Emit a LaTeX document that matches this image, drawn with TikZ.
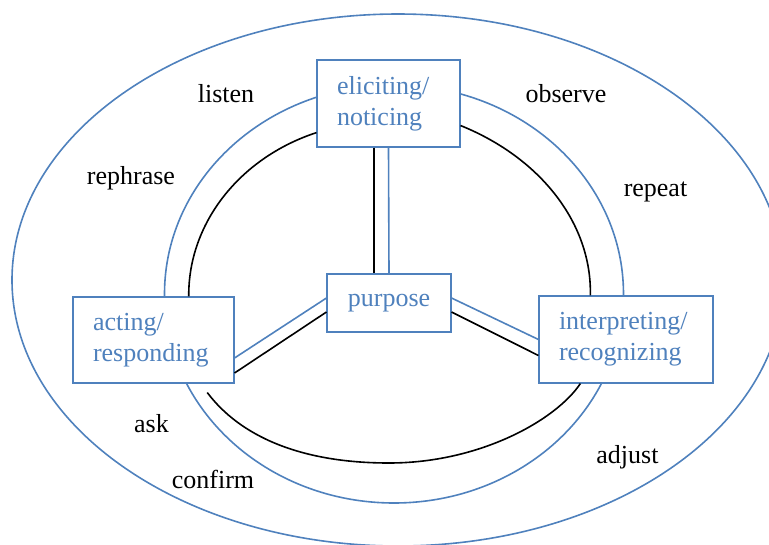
\documentclass[tikz,border=0pt]{standalone}
\usepackage{fontspec}
\setmainfont{Liberation Serif}
\usetikzlibrary{calc}
\definecolor{ringblue}{RGB}{79,129,189}

\begin{document}
\begin{tikzpicture}[
        x=0.75pt, y=-0.75pt,
        font=\fontsize{19.5}{23.5}\selectfont,
        ring/.style={draw=ringblue, line width=1.2pt},
        stage/.style={draw=ringblue, line width=0.8pt, fill=white, text=ringblue,
          align=left, inner xsep=15pt, inner ysep=0pt},
        link/.style={line width=1.2pt},
        bluelink/.style={draw=ringblue, line width=1.2pt},
        cue/.style={anchor=base}
      ]
        \clip (0,0) rectangle (769,544);
        \draw[ring] (398,280) ellipse [x radius=386, y radius=266];
        \draw[ring] (394,294) ellipse [x radius=229.5, y radius=209];

        \node[stage, text width=77.25pt, minimum height=65.25pt] (eliciting) at (388.5,103.5) {eliciting/\\noticing};
        \node[stage, text width=90.75pt, minimum height=64.5pt] (acting) at (153.5,340) {acting/\\responding};
        \node[stage, text width=100.5pt, minimum height=65.25pt] (interpreting) at (626,339.5) {interpreting/\\recognizing};
        \node[stage, align=center, text width=63pt, minimum height=43.5pt] (purpose) at (389,303) {purpose};

        \node[cue] (listen) at (226,102) {listen};
        \node[cue] (observe) at (566,102) {observe};
        \node[cue] (rephrase) at (131,184) {rephrase};
        \node[cue] (repeat) at (655.5,196) {repeat};
        \node[cue] (ask) at (151.5,432) {ask};
        \node[cue] (confirm) at (213,488) {confirm};
        \node[cue] (adjust) at (627.5,463) {adjust};

        \draw[link] (eliciting.202) .. controls (239,158) and (188,224) .. (acting.51);
        \draw[link] (eliciting.343) .. controls (541,158) and (592,224) .. (interpreting.129);
        \draw[link] ($(acting.321)+(0,9)$) .. controls (240,436) and (300,463) .. (389,463)
          .. controls (480,463) and (556,420) .. (interpreting.224);

        \draw[link] ($(eliciting.south)+(-14.5,0)$) -- ($(purpose.north)+(-15,0)$);
        \draw[bluelink] (eliciting.south) -- (purpose.north);
        \draw[bluelink] ($(purpose.west)+(0,-5)$) -- ($(acting.east)+(0,18)$);
        \draw[link] ($(purpose.west)+(0,9)$) -- ($(acting.east)+(0,33)$);
        \draw[bluelink] ($(purpose.east)+(0,-5)$) -- (interpreting.west);
        \draw[link] ($(purpose.east)+(0,9)$) -- ($(interpreting.west)+(0,16)$);
      \end{tikzpicture}
\end{document}
